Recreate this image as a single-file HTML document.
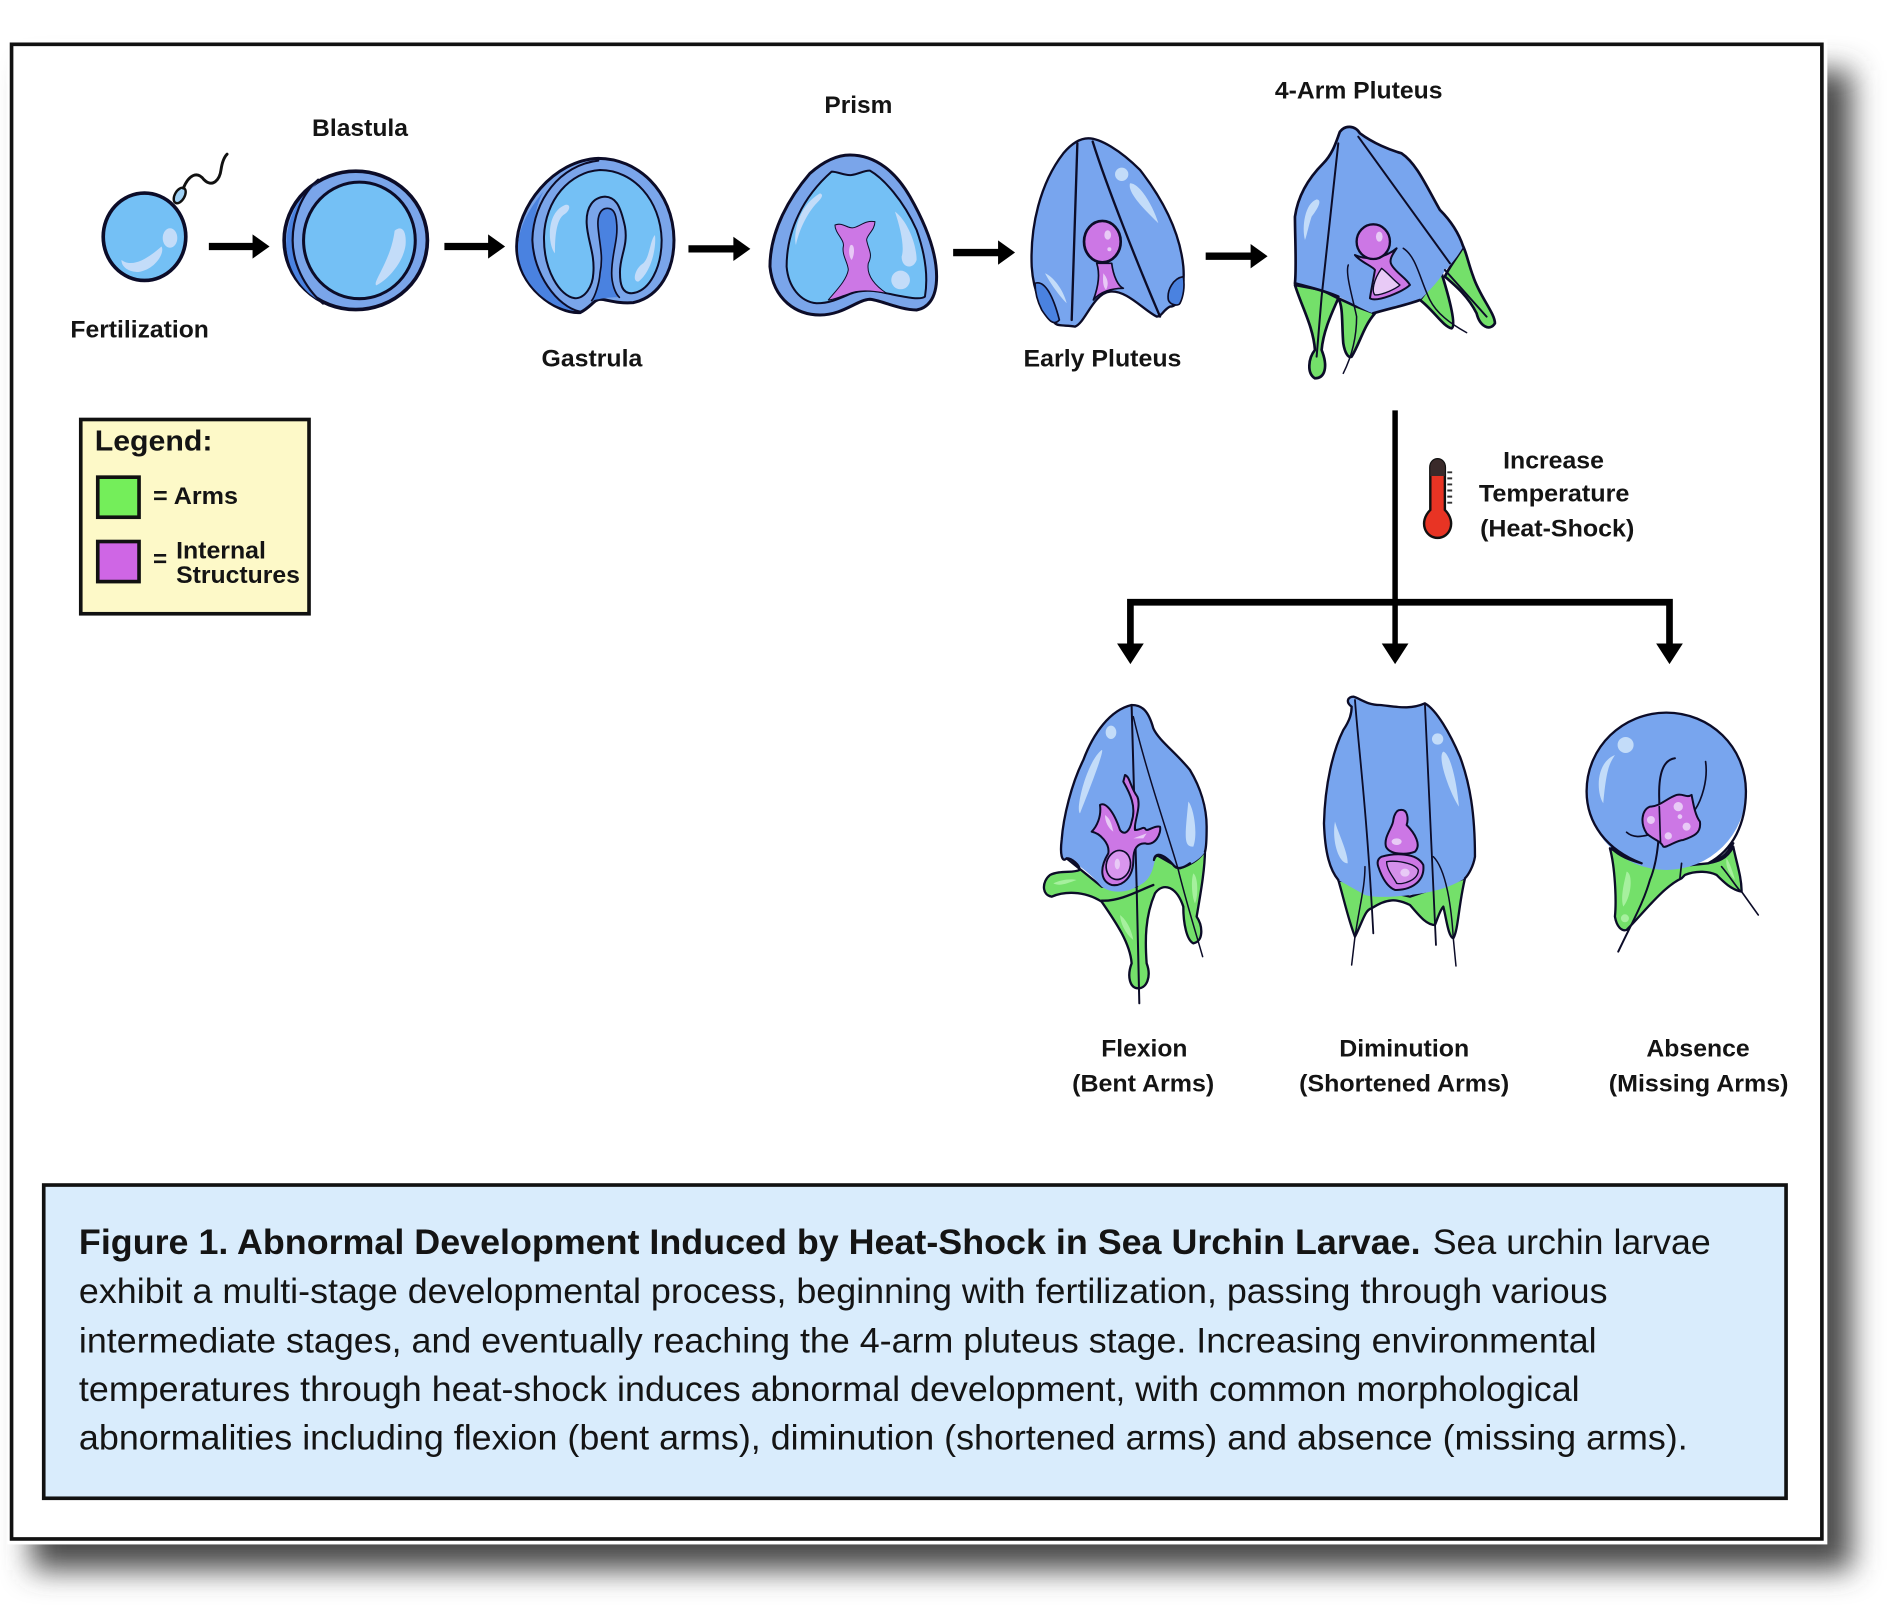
<!DOCTYPE html>
<html><head><meta charset="utf-8"><style>
html,body{margin:0;padding:0;background:#fff;width:1903px;height:1618px;overflow:hidden}
svg{display:block}
text{font-family:"Liberation Sans",sans-serif;fill:#141414}
.l{font-weight:bold;font-size:20px}
.c{font-size:29px}
.B{fill:#78a5ee}.G{fill:#74e06a}.P{fill:#cc77e5}.H{fill:#c3dcf9}.W{fill:#e8caf6}.GH{fill:#a6f09e}.L{fill:#74c0f5}.R{fill:#7aa5ea}.D{fill:#4a82e0}.N{fill:none}
.S{stroke:#0c0c28;stroke-linejoin:round;stroke-linecap:round}
</style></head><body>
<svg width="1903" height="1618" viewBox="0 0 1567.3 1332.6" xmlns="http://www.w3.org/2000/svg">
<defs><filter id="bl" x="-5%" y="-6%" width="110%" height="112%"><feGaussianBlur stdDeviation="12"/></filter></defs>
<rect width="1567.3" height="1332.6" fill="#fff"/>
<rect x="26" y="58" width="1499" height="1235" fill="#4a4a4a" filter="url(#bl)"/>
<rect x="6" y="32" width="1499" height="1240" fill="#fff"/>
<rect x="9.5" y="36.5" width="1491" height="1231" fill="#fff" stroke="#111" stroke-width="3"/>

<!-- Fertilization -->
<ellipse cx="119" cy="195" rx="34" ry="36" class="L S" stroke-width="3"/>
<path class="H" d="M100 214C110 222 125 210 133 203C136 208 128 222 114 224C106 224 100 220 100 214Z"/>
<ellipse cx="140" cy="196" rx="6" ry="8" class="H"/>
<ellipse cx="148" cy="161" rx="4" ry="7" transform="rotate(30 148 161)" fill="#9fd2f5" stroke="#111" stroke-width="2"/>
<path d="M151 155C155 145 162 140 168 148C175 155 181 148 182 140C183 133 185 129 187 127" fill="none" stroke="#111" stroke-width="2.4" stroke-linecap="round"/>

<!-- Blastula -->
<ellipse cx="293" cy="198" rx="59" ry="57" class="R S" stroke-width="3"/>
<path class="D" d="M262 150C240 165 235 190 236 205C238 225 250 240 262 247C248 230 241 215 241 198C241 180 250 160 262 150Z"/>
<path class="N S" stroke-width="1.8" d="M262 148C248 160 241 180 241 198C241 216 250 236 266 250"/>
<ellipse cx="296" cy="198" rx="46" ry="48" class="L S" stroke-width="2.5"/>
<path class="H" d="M325 190C331 185 335 190 334 202C332 216 320 230 310 235C306 233 322 215 325 190Z"/>

<!-- Gastrula -->
<g transform="translate(411.8 115.3) scale(.2745)">
<path class="R S" stroke-width="9" d="M295 55C410 55 520 150 522 300C522 390 480 470 400 488C350 492 320 478 300 478C280 480 275 500 240 518C170 522 50 440 50 320C50 200 160 60 295 55Z"/>
<path class="D" d="M130 155C75 220 52 280 54 330C57 430 150 512 238 514C190 495 110 440 100 300C100 240 110 190 130 155Z"/>
<path class="N S" stroke-width="6" d="M295 62C180 75 100 180 97 300C100 400 170 500 240 515"/>
<path class="D" d="M322 205C300 205 290 230 295 270C300 320 310 350 300 400C298 430 285 470 275 482C290 478 330 470 358 472C345 460 335 430 335 400C335 340 355 300 350 250C348 220 340 205 322 205Z"/>
<path class="N S" stroke-width="5" d="M275 482C285 470 298 430 300 400C310 350 300 320 295 270C290 230 300 205 322 205C340 205 348 220 350 250C355 300 335 340 335 400C335 430 345 460 358 472"/>
<path class="L S" stroke-width="6" d="M300 90C400 90 482 180 485 300C485 380 450 455 395 460C365 460 360 430 360 400C358 350 385 320 375 260C360 190 345 172 315 170C280 172 258 200 260 250C262 300 285 340 280 400C278 440 255 475 225 475C180 470 130 390 132 290C135 180 210 95 300 90Z"/>
<path class="H" d="M195 195C215 190 210 215 190 225C165 245 165 310 165 340C145 320 135 220 195 195ZM465 285C470 330 450 400 415 425C395 425 405 385 430 370C450 350 450 300 465 285Z"/>
</g>

<!-- Prism -->
<g transform="translate(625.9 115.3) scale(.2745)">
<path class="R S" stroke-width="9" d="M270 45C350 45 410 100 450 170C490 240 530 330 530 410C530 480 500 505 470 510C420 510 360 480 330 478C290 480 250 525 180 525C110 525 40 480 30 380C30 270 90 170 150 100C190 65 230 45 270 45Z"/>
<path class="L S" stroke-width="6" d="M215 95C235 95 255 108 275 105C295 103 315 90 330 92C370 115 430 180 470 270C495 340 505 410 495 470C480 482 430 470 380 460C340 450 300 450 270 462C240 475 210 490 170 490C120 485 85 440 80 380C80 270 130 170 215 95Z"/>
<path class="P S" stroke-width="3" d="M225 255C250 245 265 270 285 262C305 255 320 240 345 245C345 270 320 285 320 300C325 330 340 340 325 370C320 400 335 430 380 460C330 450 290 450 265 462C240 470 220 480 205 480C230 450 260 420 265 390C265 370 245 345 250 320C255 300 225 280 225 255Z"/>
<path class="W" d="M272 315C285 310 285 345 275 360C266 350 265 325 272 315Z"/>
<path class="H" d="M180 160C195 165 180 180 165 195C135 230 115 280 108 315C100 290 110 200 180 160ZM405 215C440 240 470 310 470 360C460 390 425 385 425 350C435 320 420 260 405 215Z"/>
<circle cx="422" cy="420" r="28" class="H"/>
</g>

<!-- Early Pluteus -->
<g transform="translate(840.1 98.8) scale(.2745)">
<path class="B S" stroke-width="7" d="M205 55C240 55 300 90 360 150C430 240 480 340 490 440C495 500 480 560 450 560C430 570 425 590 410 590C370 570 320 510 270 515C220 520 195 610 165 620C140 615 115 620 105 610C70 580 40 520 35 440C30 320 60 190 130 100C155 70 180 55 205 55Z"/>
<path class="D S" stroke-width="5" d="M490 470C460 475 440 510 445 540C450 555 475 560 480 550C490 530 495 500 490 470ZM45 490C75 480 100 530 118 600C100 620 85 600 65 570C50 540 45 510 45 490Z"/>
<path class="N S" stroke-width="7" d="M172 70L155 600M218 65C260 200 360 450 420 590"/>
<path class="P S" stroke-width="5" d="M230 430L275 430C280 470 295 500 310 505C275 505 240 515 220 540C235 500 240 460 230 430Z"/>
<path class="W" d="M250 460C262 475 268 490 258 510C248 500 248 480 250 460Z"/>
<ellipse cx="247" cy="365" rx="55" ry="62" class="P S" stroke-width="8"/>
<ellipse cx="263" cy="345" rx="10" ry="14" class="W"/><circle cx="268" cy="388" r="6" class="W"/>
<circle cx="305" cy="163" r="20" class="H"/>
<path class="H" d="M330 190C360 190 400 260 415 310C385 280 320 220 330 190ZM75 460C100 470 130 510 140 550C120 530 90 490 75 460Z"/>
</g>

<!-- 4-Arm Pluteus -->
<g transform="translate(1037.7 90.6) scale(.2745)">
<g class="G S" stroke-width="8">
<path d="M105 525C125 590 160 650 165 720C145 745 140 790 165 805C195 805 205 770 185 720C190 660 220 600 235 565L185 540Z"/>
<path d="M235 565C250 590 245 640 250 700C255 730 265 745 275 740C300 700 310 650 345 610L290 590Z"/>
<path d="M480 570C520 600 550 650 575 655C590 650 570 570 545 490L510 530Z"/>
<path d="M610 410C590 445 565 475 555 500C590 530 625 560 650 610C660 650 690 665 705 640C705 610 660 560 640 500C625 460 620 430 610 410Z"/>
</g>
<path class="B" d="M240 65C255 45 285 45 300 70C340 100 390 120 425 130C470 160 500 230 540 300C580 340 600 380 610 410C590 445 570 465 550 490C530 520 500 550 480 570C440 585 390 595 340 610C320 605 280 580 235 560C190 540 140 530 105 520C110 470 105 380 105 320C115 250 150 200 190 160C220 130 230 90 240 65Z"/>
<path class="N S" stroke-width="8" d="M105 520C110 470 105 380 105 320C115 250 150 200 190 160C220 130 230 90 240 65C255 45 285 45 300 70C340 100 390 120 425 130C470 160 500 230 540 300C580 340 600 380 610 410M480 570C440 585 390 595 340 610M105 520C140 530 190 540 235 560"/>
<path class="N S" stroke-width="6" d="M235 100L185 560L170 740"/>
<path class="N S" stroke-width="6" d="M295 80L570 460M555 480L680 620"/>
<path class="N S" stroke-width="4.5" d="M430 415C470 440 480 510 510 570C530 610 570 640 620 668M265 465C255 490 280 570 290 620C290 680 275 740 250 790"/>
<path class="P S" stroke-width="6" d="M285 435C300 455 340 470 345 480C340 510 330 560 330 565C350 578 430 545 450 525C440 505 410 490 395 465C385 450 400 430 410 415C380 440 330 455 285 435Z"/>
<path class="W S" stroke-width="4" d="M365 475C340 510 335 545 345 555C370 555 410 535 420 525C400 510 385 490 365 475Z"/>
<ellipse cx="340" cy="395" rx="50" ry="52" class="P S" stroke-width="7"/>
<ellipse cx="358" cy="380" rx="10" ry="15" class="W"/>
<path class="H" d="M170 268C190 270 170 300 155 320C145 350 140 380 135 390C125 350 135 280 170 268Z"/>
</g>

<!-- Arrows -->
<g fill="#000">
<path d="M172 200H208V193L222 203L208 213V206H172Z"/>
<path d="M366 200H402V193L416 203L402 213V206H366Z"/>
<path d="M567 202H604V195L618 205L604 215V208H567Z"/>
<path d="M785 205H822V198L836 208L822 218V211H785Z"/>
<path d="M993 208H1030V201L1044 211L1030 221V214H993Z"/>
</g>

<!-- Branch connector -->
<path d="M1149 338V534" fill="none" stroke="#000" stroke-width="4.5"/>
<path d="M931 533V496H1375V533" fill="none" stroke="#000" stroke-width="5.5"/>
<path d="M920 530H942L931 547ZM1138 530H1160L1149 547ZM1364 530H1386L1375 547Z" fill="#000"/>

<!-- Thermometer -->
<path d="M1178 385C1178 376 1190 376 1190 385V420C1200 430 1194 443 1184 443C1174 443 1168 430 1178 420Z" fill="#e83424" stroke="#111" stroke-width="2"/>
<path d="M1178 385C1178 376 1190 376 1190 385V392H1178Z" fill="#3a2a2a"/>
<path d="M1192 389H1196M1192 394H1196M1192 399H1196M1192 404H1196M1192 409H1196M1192 414H1196" stroke="#333" stroke-width="1.6"/>

<!-- Flexion -->
<g transform="translate(848.3 568.3) scale(.2745)">
<path class="G S" stroke-width="7" d="M110 505C125 505 150 525 148 540C130 550 90 540 60 555C35 575 35 615 65 620C100 605 160 600 215 635C260 700 300 760 305 820C290 860 300 895 325 895C350 895 365 860 350 820C345 750 345 680 375 610C400 575 440 590 460 650C460 700 470 750 490 760C520 755 520 710 500 680C510 620 525 540 525 480C510 510 480 525 450 535L380 495L320 590L215 590Z"/>
<path class="B" d="M305 45C335 45 355 60 370 115C385 150 440 190 480 240C510 290 530 350 530 410C530 440 530 470 525 485C510 510 480 525 450 535C430 525 400 490 380 495C370 510 375 570 320 590C290 610 240 610 215 590C190 560 150 525 110 505C95 520 90 490 95 450C100 380 125 280 160 210C190 130 240 60 305 45Z"/>
<path class="N S" stroke-width="7" d="M110 505C95 520 90 490 95 450C100 380 125 280 160 210C190 130 240 60 305 45C335 45 355 60 370 115C385 150 440 190 480 240C510 290 530 350 530 410C530 440 530 470 525 485M110 505C125 505 150 525 148 540M372 510C375 485 400 490 430 525C440 540 460 535 480 520M215 632C270 635 330 600 370 585"/>
<path class="N S" stroke-width="6" d="M305 50L320 590L328 940"/>
<path class="N S" stroke-width="4.5" d="M310 80C350 250 420 450 445 540C470 640 495 720 518 800"/>
<path class="P S" stroke-width="6" d="M285 255C300 260 300 290 322 320C335 350 310 400 315 420C330 420 340 410 345 415C350 430 370 405 390 410C395 430 375 470 345 460C320 460 310 480 310 510C310 560 280 590 245 585C215 575 205 540 235 490C240 460 210 430 185 425C200 410 215 380 210 345C225 335 250 360 270 420C285 440 300 420 305 395C320 350 300 310 280 275Z"/>
<ellipse cx="265" cy="525" rx="36" ry="44" transform="rotate(15 265 525)" fill="#d996ee" class="S" stroke-width="5"/>
<ellipse cx="262" cy="522" rx="8" ry="16" class="W"/>
<path class="W" d="M225 375C240 385 245 400 250 425C235 415 225 395 225 375ZM310 445L350 430L340 445Z"/>
<ellipse cx="243" cy="127" rx="16" ry="20" class="H"/>
<path class="H" d="M215 180C225 175 190 270 150 370C135 360 170 215 215 180ZM475 335C490 350 505 430 490 470C460 470 465 440 475 335Z"/>
<path class="GH" d="M270 675C290 690 305 720 310 750C285 730 272 700 270 675ZM70 580C90 570 120 565 140 570C110 580 90 590 70 580ZM490 550C505 560 505 620 495 640C485 620 483 570 490 550Z"/>
</g>

<!-- Diminution -->
<g transform="translate(1078.9 568.3) scale(.2745)">
<path class="G S" stroke-width="7" d="M85 570C100 620 115 690 135 740C160 690 165 660 185 655C230 625 260 625 300 645C330 680 350 705 375 705C385 680 390 660 400 650C410 690 415 740 430 745C445 720 445 650 465 565L300 620Z"/>
<path class="B" d="M130 20C150 25 170 45 210 45C260 50 300 60 345 40C380 60 420 130 450 200C480 280 495 370 495 500C490 530 475 555 465 565C430 585 390 605 300 615C260 620 200 625 165 615L85 570C60 540 45 490 42 400C45 280 70 180 100 120C120 90 125 70 125 50C105 35 115 20 130 20Z"/>
<path class="N S" stroke-width="7" d="M85 570C60 540 45 490 42 400C45 280 70 180 100 120C120 90 125 70 125 50C105 35 115 20 130 20C150 25 170 45 210 45C260 50 300 60 345 40C380 60 420 130 450 200C480 280 495 370 495 500C490 530 475 555 465 565"/>
<path class="N S" stroke-width="5.5" d="M135 30C145 170 170 350 190 730M345 45C355 250 365 500 378 765"/>
<path class="N S" stroke-width="4.5" d="M135 740L125 825M430 745L438 828M370 500C410 540 425 660 430 745M165 530C165 590 150 640 135 740"/>
<path class="P S" stroke-width="6" d="M270 360C295 355 295 390 290 405C315 430 335 465 315 485C290 495 240 495 228 470C220 440 250 410 250 390C252 375 260 360 270 360Z"/>
<path class="P S" stroke-width="6" d="M215 500C250 490 320 485 340 525C345 570 310 600 255 600C230 590 215 560 205 530C200 515 205 505 215 500Z"/>
<path fill="#d590ea" class="S" stroke-width="4" d="M230 515C260 510 315 520 325 540C325 570 280 585 260 580C250 560 230 540 230 515Z"/>
<ellipse cx="260" cy="455" rx="15" ry="10" class="W"/><ellipse cx="285" cy="548" rx="14" ry="12" class="W"/>
<circle cx="383" cy="147" r="17" class="H"/>
<path class="H" d="M400 185C420 190 440 270 447 350C420 310 380 200 400 185ZM75 395C85 430 115 490 113 520C85 520 65 450 75 395Z"/>
</g>

<!-- Absence -->
<g transform="translate(1293 576.5) scale(.2745)">
<path class="G S" stroke-width="7" d="M120 445C135 500 140 600 135 650C140 680 155 695 170 690C220 640 280 560 335 535L345 525C380 510 420 515 440 525C460 545 485 570 515 575C515 530 500 490 490 440C470 480 440 485 415 490L320 500L215 490Z"/>
<ellipse cx="289" cy="274" rx="239" ry="236" class="B"/>
<path class="N S" stroke-width="7" d="M215 490C110 450 50 370 50 274C50 140 160 38 289 38C420 38 528 140 528 274C528 370 490 450 415 490M125 445C150 470 180 480 215 490M415 490C450 480 470 465 490 430"/>
<path class="N S" stroke-width="6" d="M315 175C280 180 265 220 268 300C270 400 265 480 240 540C220 610 190 660 145 755"/>
<path class="N S" stroke-width="5" d="M407 185C415 240 395 300 375 330M170 397C190 415 215 410 235 405M515 575L565 645M455 500C480 530 495 555 510 572M335 490L330 535"/>
<path class="P S" stroke-width="6" d="M240 320C270 320 290 295 320 285C340 280 350 295 365 285C370 310 375 345 390 365C395 400 370 410 340 420C320 420 290 445 280 440C270 420 250 420 230 400C210 370 215 330 240 320Z"/>
<path class="N S" stroke-width="5" d="M268 320C270 360 270 400 272 430"/>
<g class="W"><circle cx="243" cy="360" r="12"/><circle cx="325" cy="320" r="14"/><circle cx="350" cy="380" r="12"/><circle cx="295" cy="408" r="11"/><circle cx="330" cy="350" r="7"/></g>
<circle cx="167" cy="135" r="24" class="H"/>
<path class="H" d="M135 165C120 190 110 200 100 310C80 280 75 190 135 165Z"/>
<path class="GH" d="M170 515C190 520 185 590 160 620C150 590 165 540 170 515Z"/><circle cx="165" cy="655" r="12" class="GH"/>
<path class="GH" d="M470 475C480 490 490 520 495 540C480 525 465 500 470 475Z"/>
</g>

<!-- Legend -->
<rect x="66.5" y="345.5" width="188" height="160" fill="#fdf9c8" stroke="#111" stroke-width="3"/>
<text x="78" y="371" font-size="24" font-weight="bold" textLength="97" lengthAdjust="spacingAndGlyphs">Legend:</text>
<rect x="80.5" y="393" width="34" height="33" fill="#74ee5a" stroke="#111" stroke-width="3"/>
<rect x="80.5" y="446" width="34" height="33" fill="#cf66e5" stroke="#111" stroke-width="3"/>
<text class="l" x="126" y="415" textLength="70" lengthAdjust="spacingAndGlyphs">= Arms</text>
<text class="l" x="126" y="467">=</text>
<text class="l" x="145" y="460" textLength="74" lengthAdjust="spacingAndGlyphs">Internal</text>
<text class="l" x="145" y="480" textLength="102" lengthAdjust="spacingAndGlyphs">Structures</text>

<!-- Labels -->
<text class="l" x="257" y="112" textLength="79" lengthAdjust="spacingAndGlyphs">Blastula</text>
<text class="l" x="679" y="93" textLength="56" lengthAdjust="spacingAndGlyphs">Prism</text>
<text class="l" x="1050" y="81" textLength="138" lengthAdjust="spacingAndGlyphs">4-Arm Pluteus</text>
<text class="l" x="58" y="278" textLength="114" lengthAdjust="spacingAndGlyphs">Fertilization</text>
<text class="l" x="446" y="302" textLength="83" lengthAdjust="spacingAndGlyphs">Gastrula</text>
<text class="l" x="843" y="302" textLength="130" lengthAdjust="spacingAndGlyphs">Early Pluteus</text>
<text class="l" x="1238" y="386" textLength="83" lengthAdjust="spacingAndGlyphs">Increase</text>
<text class="l" x="1218" y="413" textLength="124" lengthAdjust="spacingAndGlyphs">Temperature</text>
<text class="l" x="1219" y="442" textLength="127" lengthAdjust="spacingAndGlyphs">(Heat-Shock)</text>
<text class="l" x="907" y="870" textLength="71" lengthAdjust="spacingAndGlyphs">Flexion</text>
<text class="l" x="883" y="899" textLength="117" lengthAdjust="spacingAndGlyphs">(Bent Arms)</text>
<text class="l" x="1103" y="870" textLength="107" lengthAdjust="spacingAndGlyphs">Diminution</text>
<text class="l" x="1070" y="899" textLength="173" lengthAdjust="spacingAndGlyphs">(Shortened Arms)</text>
<text class="l" x="1356" y="870" textLength="85" lengthAdjust="spacingAndGlyphs">Absence</text>
<text class="l" x="1325" y="899" textLength="148" lengthAdjust="spacingAndGlyphs">(Missing Arms)</text>

<!-- Caption -->
<rect x="36" y="976" width="1435" height="258" fill="#d9ecfc" stroke="#111" stroke-width="3"/>
<text class="c" x="65" y="1033" font-weight="bold" textLength="1105" lengthAdjust="spacingAndGlyphs">Figure 1. Abnormal Development Induced by Heat-Shock in Sea Urchin Larvae.</text>
<text class="c" x="1180" y="1033" textLength="229" lengthAdjust="spacingAndGlyphs">Sea urchin larvae</text>
<text class="c" x="65" y="1073" textLength="1259" lengthAdjust="spacingAndGlyphs">exhibit a multi-stage developmental process, beginning with fertilization, passing through various</text>
<text class="c" x="65" y="1114" textLength="1250" lengthAdjust="spacingAndGlyphs">intermediate stages, and eventually reaching the 4-arm pluteus stage. Increasing environmental</text>
<text class="c" x="65" y="1154" textLength="1236" lengthAdjust="spacingAndGlyphs">temperatures through heat-shock induces abnormal development, with common morphological</text>
<text class="c" x="65" y="1194" textLength="1325" lengthAdjust="spacingAndGlyphs">abnormalities including flexion (bent arms), diminution (shortened arms) and absence (missing arms).</text>
</svg>
</body></html>
